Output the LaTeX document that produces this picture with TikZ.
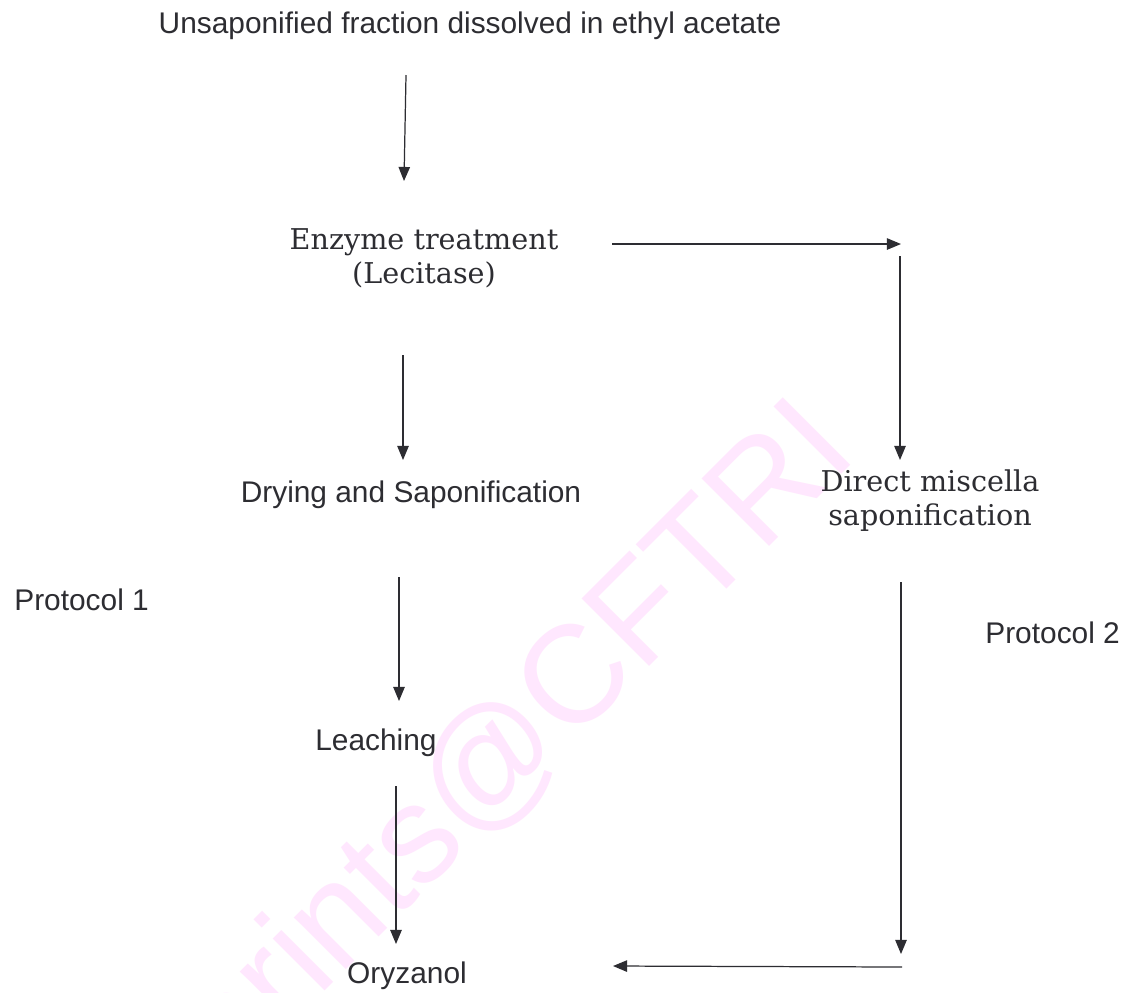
\documentclass[tikz,border=0pt]{standalone}
\usepackage{fontspec}
\setmainfont{Liberation Sans}
\newfontfamily\bookfont{DejaVu Serif}
\usetikzlibrary{arrows.meta}

\definecolor{inkgray}{RGB}{45,45,50}
\definecolor{stamppink}{RGB}{255,231,254}

\tikzset{
  steptext/.style={text=inkgray, inner sep=0pt, font=\fontsize{17}{20}\selectfont},
  booktext/.style={text=inkgray, inner sep=0pt, align=center, font=\bookfont\fontsize{16.3}{18.9}\selectfont},
  flow/.style={draw=inkgray, line width=0.7pt, -{Triangle[length=8pt,width=6.5pt]}},
}

\begin{document}
\begin{tikzpicture}[x=0.02cm, y=-0.02cm]
  \useasboundingbox (0,0) rectangle (1135,992);
  \fill[white] (0,0) rectangle (1135,992);

  % repository stamp behind everything
  \begin{scope}
    \clip (0,0) rectangle (1135,992);
    \node[rotate=45, anchor=base west, inner sep=0pt, text=stamppink,
          font=\fontsize{79}{80}\selectfont] (stamp) at (176,1140) {eprints@CFTRI};
  \end{scope}

  % process steps (two-line nodes sit on their last baseline)
  \node[steptext, anchor=base] (feed) at (470,33) {Unsaponified fraction dissolved in ethyl acetate};
  \node[booktext, anchor=base] (enzyme) at (424,283) {Enzyme treatment\\(Lecitase)};
  \node[steptext, anchor=base] (drying) at (411,502) {Drying and Saponification};
  \node[booktext, anchor=base] (miscella) at (930,525) {Direct miscella\\saponification};
  \node[steptext, anchor=base] (leach) at (376,750) {Leaching};
  \node[steptext, anchor=base] (oryz) at (407,983) {Oryzanol};
  \node[steptext, anchor=base west] (prot1) at (14,610) {Protocol 1};
  \node[steptext, anchor=base west] (prot2) at (985,643) {Protocol 2};

  % arrow ends
  \coordinate (feed-out)  at (406,75);
  \coordinate (enz-in)    at (404,181);
  \coordinate (enz-out)   at (403,355);
  \coordinate (dry-in)    at (403,460);
  \coordinate (dry-out)   at (399,577);
  \coordinate (leach-in)  at (399,701);
  \coordinate (leach-out) at (396,786);
  \coordinate (oryz-in)   at (396,944);
  \coordinate (enz-side)  at (612,244);
  \coordinate (turn-top)  at (901,244);
  \coordinate (dm-top)    at (900,256);
  \coordinate (dm-in)     at (900,460);
  \coordinate (dm-out)    at (901,582);
  \coordinate (turn-bot)  at (901,954);
  \coordinate (back)      at (902,967);
  \coordinate (oryz-side) at (613,966);

  % protocol 1
  \draw[flow] (feed-out) -- (enz-in);
  \draw[flow] (enz-out) -- (dry-in);
  \draw[flow] (dry-out) -- (leach-in);
  \draw[flow] (leach-out) -- (oryz-in);
  % protocol 2
  \draw[flow] (enz-side) -- (turn-top);
  \draw[flow] (dm-top) -- (dm-in);
  \draw[flow] (dm-out) -- (turn-bot);
  \draw[flow] (back) -- (oryz-side);
\end{tikzpicture}
\end{document}
